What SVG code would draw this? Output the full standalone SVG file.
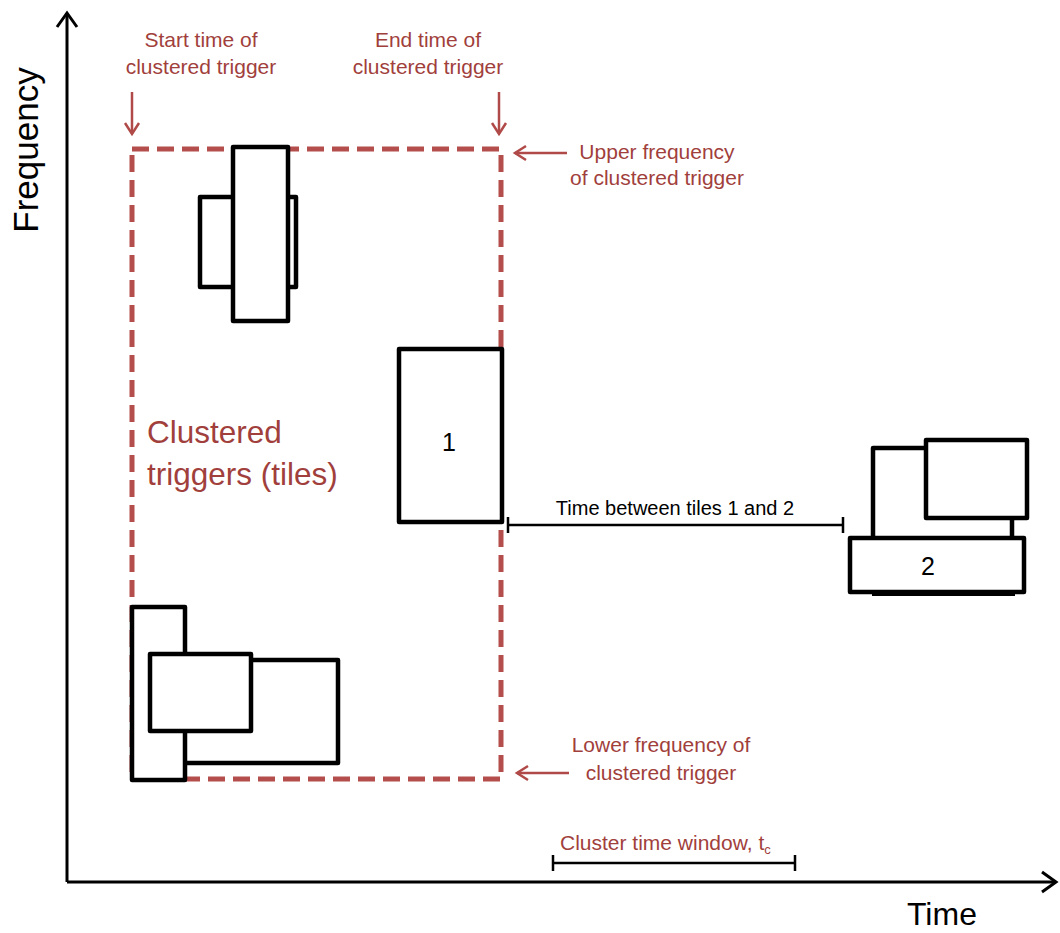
<svg xmlns="http://www.w3.org/2000/svg" width="1060" height="933" viewBox="0 0 1060 933">
<defs>
<style>
.axis{stroke:#000;stroke-width:3;fill:none}
.tile{fill:#fff;stroke:#000;stroke-width:4.5;stroke-linejoin:round}
.cluster{fill:none;stroke:#b34e4c;stroke-width:5;stroke-dasharray:17 8}
.rarrow{stroke:#b04a48;stroke-width:2.5;fill:none}
.bar{stroke:#000;stroke-width:2.5;fill:none}
.lbl{font-family:"Liberation Sans",Arial,sans-serif;font-size:21px;fill:#a13f3c;text-anchor:middle}
.title{font-family:"Liberation Sans",Arial,sans-serif;font-size:31.5px;fill:#a13f3c;text-anchor:start}
.big{font-family:"Liberation Sans",Arial,sans-serif;fill:#000}
.num{font-family:"Liberation Sans",Arial,sans-serif;font-size:25px;fill:#000;text-anchor:middle}
</style>
<marker id="axhead" markerUnits="userSpaceOnUse" viewBox="-16 -12 18 24" markerWidth="18" markerHeight="24" refX="0" refY="0" orient="auto" overflow="visible">
<path d="M-14,-10 L0,0 L-14,10" fill="none" stroke="#000" stroke-width="3"/>
</marker>
<marker id="rhead" markerUnits="userSpaceOnUse" viewBox="-12 -9 14 18" markerWidth="14" markerHeight="18" refX="0" refY="0" orient="auto" overflow="visible">
<path d="M-11,-7 L0,0 L-11,7" fill="none" stroke="#b04a48" stroke-width="2.5"/>
</marker>
</defs>
<rect width="1060" height="933" fill="#fff"/>

<g id="axes">
<line class="axis" x1="67" y1="882" x2="67" y2="13" marker-end="url(#axhead)"/>
<line class="axis" x1="67" y1="882" x2="1056" y2="882" marker-end="url(#axhead)"/>
<text class="big" font-size="35" text-anchor="middle" transform="translate(38,150) rotate(-90)">Frequency</text>
<text class="big" font-size="32" x="907" y="925">Time</text>
</g>

<g id="cluster-box">
<rect class="cluster" x="132" y="149" width="369" height="630"/>
<text class="title" x="147" y="443">Clustered</text>
<text class="title" x="147" y="485">triggers (tiles)</text>
</g>

<g id="tiles-top">
<rect class="tile" x="200" y="197" width="96" height="90"/>
<rect class="tile" x="233" y="147" width="55" height="174"/>
</g>

<g id="tile-1">
<rect class="tile" x="399" y="349" width="103" height="173"/>
<text class="num" x="449" y="451">1</text>
</g>

<g id="tile-2">
<rect class="tile" x="873" y="448" width="139" height="100"/>
<rect class="tile" x="926" y="440" width="101" height="78"/>
<line x1="872" y1="594" x2="1015" y2="594" stroke="#000" stroke-width="4"/>
<rect class="tile" x="850" y="538" width="174" height="54"/>
<text class="num" x="928" y="575">2</text>
</g>

<g id="tiles-bottom">
<rect class="tile" x="170" y="660" width="168" height="103"/>
<rect class="tile" x="132" y="607" width="53" height="173"/>
<rect class="tile" x="150" y="654" width="101" height="77"/>
</g>

<g id="labels">
<text class="lbl" x="201" y="47">Start time of</text>
<text class="lbl" x="201" y="74">clustered trigger</text>
<text class="lbl" x="428" y="47">End time of</text>
<text class="lbl" x="428" y="74">clustered trigger</text>
<text class="lbl" x="657" y="159">Upper frequency</text>
<text class="lbl" x="657" y="185">of clustered trigger</text>
<text class="lbl" x="661" y="752">Lower frequency of</text>
<text class="lbl" x="661" y="780">clustered trigger</text>
<text class="big" font-size="20" text-anchor="middle" x="675" y="515" fill="#111">Time between tiles 1 and 2</text>
<text class="lbl" style="text-anchor:start" x="560" y="850">Cluster time window, t<tspan font-size="13" dy="4">c</tspan></text>
</g>

<g id="connectors">
<line class="rarrow" x1="132" y1="92" x2="132" y2="134" marker-end="url(#rhead)"/>
<line class="rarrow" x1="499" y1="92" x2="499" y2="134" marker-end="url(#rhead)"/>
<line class="rarrow" x1="567" y1="153" x2="515" y2="153" marker-end="url(#rhead)"/>
<line class="rarrow" x1="569" y1="773" x2="517" y2="773" marker-end="url(#rhead)"/>
<path class="bar" d="M508,525 H843 M508,517 V533 M843,517 V533"/>
<path class="bar" d="M553,863 H795 M553,855 V871 M795,855 V871"/>
</g>
</svg>
